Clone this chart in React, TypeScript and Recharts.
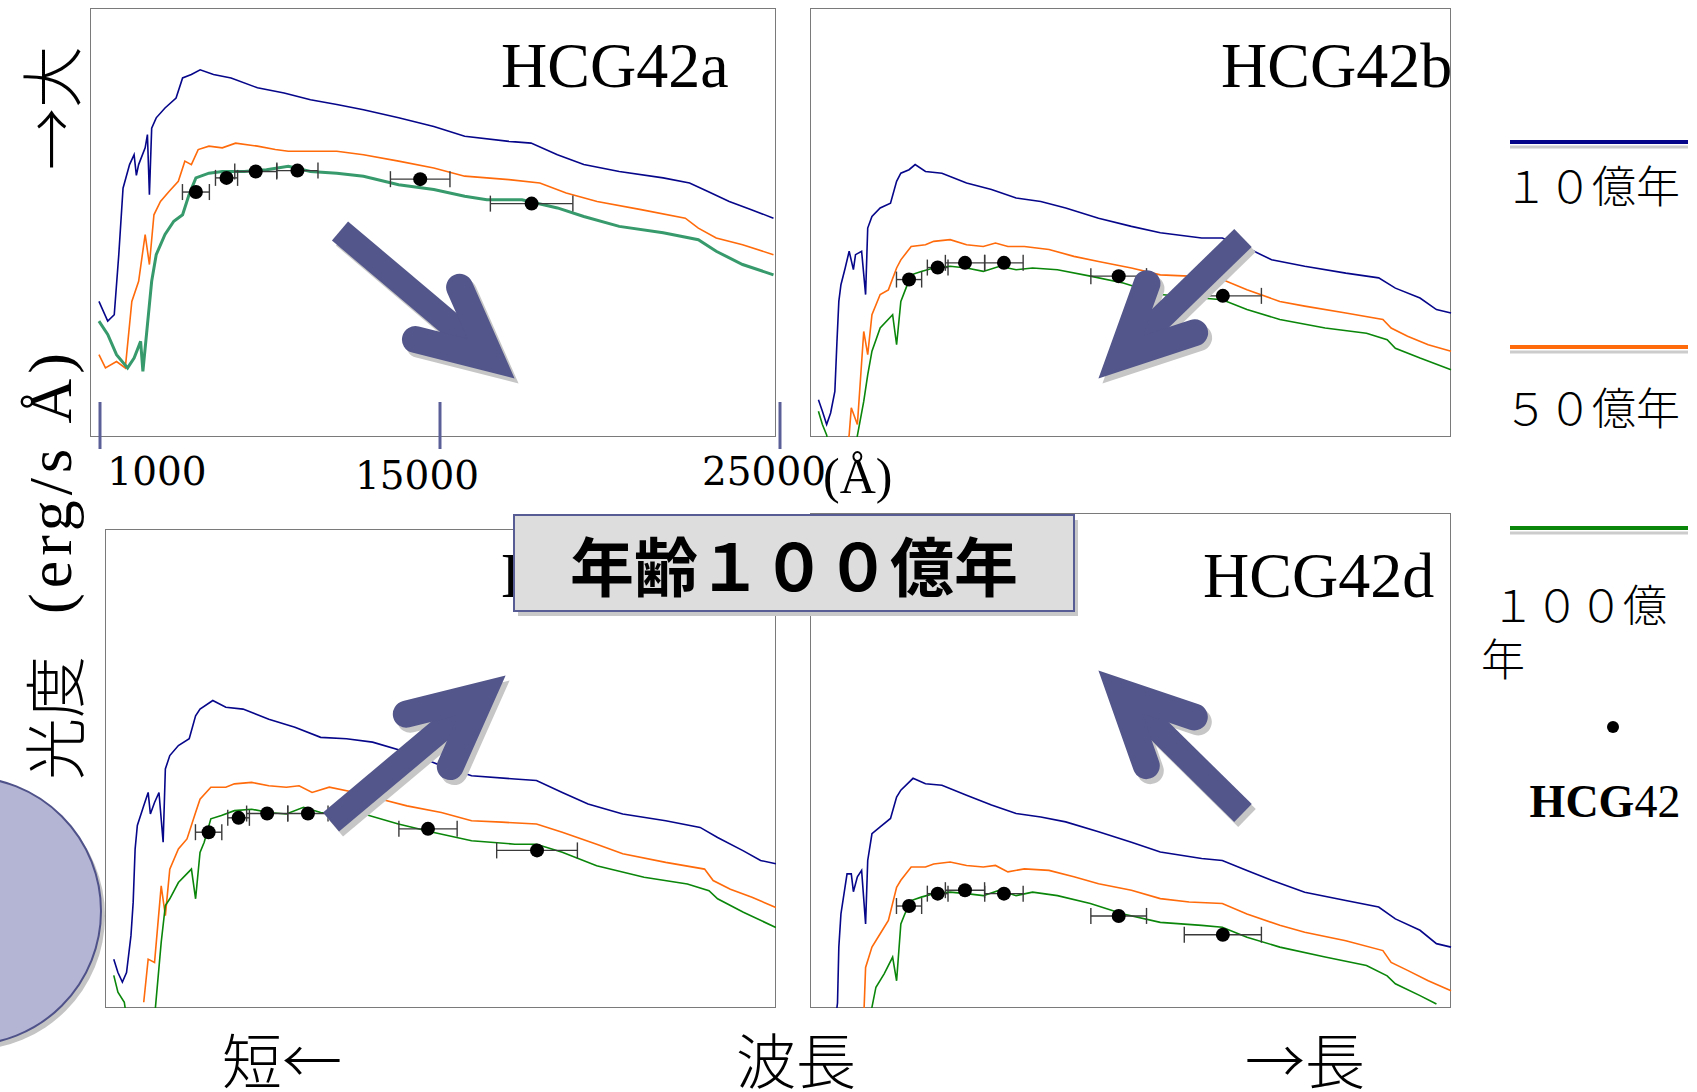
import React from 'react';
import { ComposedChart, Line, Scatter, XAxis, YAxis, ErrorBar } from 'recharts';

// spectra: [wavelength (Å), flux in % of the panel height]
const a10 = [[980,31.6],[1290,27.0],[1520,28.5],[1680,42.5],[1830,58.0],[2060,63.5],[2220,65.8],[2300,61.0],[2380,63.5],[2610,67.4],[2690,70.5],[2760,56.5],[2840,72.0],[3000,74.4],[3310,76.7],[3700,79.0],[3930,83.7],[4240,84.5],[4550,85.6],[5020,84.5],[5640,83.7],[6570,81.4],[7510,80.2],[8440,78.6],[9370,77.5],[10310,76.3],[11550,74.4],[12790,72.4],[13880,70.1],[15440,68.9],[16220,68.5],[17150,65.8],[18080,63.5],[19330,61.9],[20880,60.4],[21810,59.2],[22440,57.3],[23210,54.9],[23990,53.0],[24770,51.0]];
const a50 = [[980,19.2],[1210,16.1],[1600,17.6],[1910,16.1],[2140,31.6],[2380,36.3],[2610,47.2],[2760,40.2],[2920,51.8],[3150,54.9],[3460,57.3],[3780,59.6],[4010,64.3],[4240,63.5],[4480,67.0],[4860,67.8],[5330,67.4],[5800,68.5],[6570,67.8],[7200,67.0],[7660,66.6],[8440,66.6],[9370,66.6],[10310,65.8],[11550,64.3],[12790,62.7],[13880,60.8],[15440,60.0],[16530,59.2],[17460,56.9],[18550,54.9],[20100,53.0],[21660,51.0],[22120,48.7],[22750,46.4],[23680,44.8],[24770,42.5]];
const a100 = [[980,27.0],[1290,23.9],[1600,19.2],[1990,16.1],[2220,18.4],[2450,22.3],[2530,15.3],[2840,36.3],[3000,42.5],[3310,47.2],[3620,50.3],[3930,51.8],[4160,56.5],[4400,60.4],[4860,61.5],[5330,61.9],[6110,61.9],[6890,62.3],[7660,63.1],[8440,61.9],[9370,61.5],[10310,60.8],[11550,58.8],[12790,57.7],[13880,56.1],[14660,55.3],[15900,55.3],[17150,53.4],[18080,51.4],[19330,49.1],[20880,47.6],[22120,46.0],[22750,43.3],[23680,40.2],[24770,37.8]];

const b10 = [[980,8.7],[1130,6.0],[1290,2.9],[1440,5.6],[1600,10.6],[1680,22.3],[1750,31.6],[1830,35.5],[1990,39.4],[2140,43.3],[2300,39.0],[2380,42.5],[2610,43.3],[2760,33.2],[2840,48.7],[3000,51.4],[3310,53.4],[3700,54.5],[3930,59.6],[4090,61.5],[4400,62.3],[4630,63.5],[5020,61.9],[5640,61.5],[6570,59.2],[7510,57.7],[8440,55.7],[9370,54.9],[10310,53.4],[11550,51.0],[12790,49.1],[13880,47.6],[15440,46.4],[16220,46.4],[17150,44.1],[18080,41.3],[19330,39.8],[20880,38.2],[22120,37.1],[22750,34.7],[23680,32.4],[24300,29.7],[24850,28.9]];
const b50 = [[2060,-2],[2140,0.5],[2220,6.8],[2450,2.9],[2690,24.6],[2840,19.2],[3000,28.5],[3310,33.2],[3620,34.3],[3930,39.4],[4090,41.3],[4480,44.4],[5020,44.8],[5330,45.6],[5950,46.0],[6570,44.8],[7200,44.4],[7660,45.2],[8130,44.4],[8750,44.4],[9680,43.7],[10620,42.1],[11550,40.9],[12790,39.4],[13880,37.8],[14970,37.5],[16220,36.7],[17150,34.3],[18390,31.6],[19330,30.5],[20880,28.9],[22280,27.4],[22590,25.4],[23210,23.5],[23990,21.5],[24850,20.0]];
const b100 = [[980,6.0],[1130,2.9],[1290,0.5],[1360,-2],[2380,-2],[2690,8.3],[2840,14.5],[3000,20.0],[3310,25.4],[3780,28.5],[3930,21.5],[4090,31.6],[4240,34.0],[4480,37.8],[4860,38.6],[5330,39.4],[5950,39.8],[6570,39.4],[7200,38.6],[7820,39.8],[8440,39.0],[9060,39.4],[10000,39.0],[11240,37.5],[12480,35.9],[13880,33.2],[15440,32.4],[16220,32.0],[17150,29.7],[18390,27.4],[20100,25.4],[21660,24.2],[22440,22.7],[22750,20.7],[23680,18.4],[24850,15.7]];

const c10 = [[980,10.2],[1130,7.4],[1290,5.4],[1440,7.4],[1600,15.1],[1680,22.1],[1750,33.2],[1830,38.1],[2060,42.2],[2220,45.0],[2300,40.5],[2450,42.9],[2610,45.0],[2760,34.6],[2840,49.9],[3000,52.7],[3310,54.8],[3700,56.2],[3930,61.0],[4090,62.4],[4550,64.2],[5020,62.8],[5640,62.4],[6570,60.3],[7510,58.6],[8440,56.5],[9370,56.2],[10310,55.5],[11550,53.4],[12790,50.6],[13880,48.5],[15440,47.8],[16220,47.5],[17150,45.0],[18080,42.6],[19330,40.5],[20880,39.1],[22120,37.7],[22750,35.6],[23680,32.8],[24300,30.8],[24850,30.1]];
const c50 = [[2060,1.2],[2220,10.2],[2450,9.5],[2690,25.5],[2840,19.3],[3000,29.0],[3310,33.2],[3620,35.3],[3930,40.8],[4090,43.6],[4480,46.1],[5020,46.1],[5330,46.8],[5950,47.1],[6570,46.4],[7200,46.1],[7660,46.4],[8130,45.0],[8750,46.1],[9680,45.0],[10620,43.6],[11550,42.2],[12790,40.8],[13880,39.1],[14970,38.8],[16220,38.4],[17150,36.7],[18390,34.2],[19330,32.2],[20880,30.4],[22280,29.0],[22590,26.6],[23210,24.8],[23990,23.1],[24850,21.0]];
const c100 = [[980,6.8],[1130,3.3],[1360,1.2],[1440,-2],[2450,-2],[2690,13.7],[2840,21.4],[3000,22.8],[3310,26.2],[3780,29.0],[3930,22.8],[4090,32.5],[4240,34.6],[4480,39.5],[4860,40.2],[5330,41.2],[5950,41.5],[6570,40.8],[7200,40.5],[7820,41.9],[8440,40.8],[9060,40.5],[10000,40.5],[11240,38.4],[12480,36.7],[13880,34.9],[15440,34.2],[16220,34.2],[17150,32.5],[18390,29.7],[20100,27.3],[21660,25.9],[22440,24.5],[22750,22.8],[23680,20.0],[24850,16.8]];

const d10 = [[1630,-2],[1700,1.0],[1750,12.3],[1830,19.0],[2060,27.1],[2220,27.1],[2300,23.5],[2450,26.5],[2610,27.8],[2760,17.0],[2840,29.8],[3000,35.2],[3310,36.6],[3700,38.3],[3930,42.6],[4090,44.0],[4550,46.4],[5020,45.3],[5640,45.0],[6570,43.0],[7510,41.0],[8440,39.3],[9370,38.6],[10310,37.6],[11550,35.6],[12790,33.5],[13880,31.5],[15440,30.2],[16220,29.8],[17150,27.8],[18080,25.8],[19330,23.4],[20880,21.7],[22120,20.4],[22750,18.0],[23680,15.7],[24300,13.0],[24850,12.3]];
const d50 = [[2690,-2],[2760,8.2],[3000,12.3],[3310,15.0],[3620,17.7],[3930,24.4],[4090,25.8],[4480,28.5],[5020,28.5],[5330,29.1],[5950,29.5],[6570,28.8],[7200,28.5],[7660,28.8],[8130,27.5],[8750,28.1],[9680,27.8],[10620,26.5],[11550,25.1],[12790,23.8],[13880,22.1],[14970,21.4],[16220,21.1],[17150,19.0],[18390,16.7],[19330,15.3],[20880,13.6],[22280,11.6],[22590,9.2],[23210,7.6],[23990,5.5],[24850,3.5]];
const d100 = [[2920,-2],[3150,4.2],[3460,6.9],[3780,10.3],[3930,5.5],[4090,17.0],[4240,19.0],[4480,21.7],[4860,22.4],[5330,23.1],[5950,23.4],[6570,23.1],[7200,22.7],[7820,23.8],[8440,22.7],[9060,23.4],[10000,22.7],[11240,21.1],[12480,19.0],[13880,17.3],[15440,16.7],[16220,16.3],[17150,14.3],[18390,12.3],[20100,10.3],[21660,8.6],[22440,6.5],[22750,4.9],[23680,2.5],[24300,0.8]];

// HCG42 photometry: band centre, half width, flux per galaxy
const bandWave = [4400, 5480, 6510, 7980, 12310, 16240];
const bandErr = [475, 390, 740, 725, 1050, 1455];
const dotsA = [57.1, 60.4, 61.9, 62.1, 60.1, 54.4];
const dotsB = [36.7, 39.5, 40.6, 40.6, 37.5, 32.9];
const dotsC = [36.7, 39.7, 40.6, 40.6, 37.4, 32.9];
const dotsD = [20.6, 23.1, 23.8, 23.1, 18.6, 14.8];

const annTicks = ['1000', '15000', '25000'];

const BLUE = '#06068a';
const ORANGE = '#ff6a0a';
const GREEN = '#0a860a';
const TEAL = '#379a6c';
const ARROW = '#53568a';
const JP = '"Noto Sans CJK JP", sans-serif';
const SERIF = '"Liberation Serif", serif';

const toPts = (arr: number[][]) => arr.map(([x, v]) => ({ x, v }));

const annDx = [57, -23, -16];
const annDy = [16, 20, 16];

function AnnTick(props: any) {
  const { x, y, payload, index } = props;
  return (
    <g>
      <line x1={x} x2={x} y1={y - 67} y2={y - 20} stroke="#5b5f98" strokeWidth={3} />
      <text x={x + annDx[index]} y={y + annDy[index]} textAnchor="middle" fontFamily='"DejaVu Serif", serif' fontSize={39} fill="#000">
        {payload.value}
      </text>
    </g>
  );
}

const DotShape = (p: any) => <circle cx={p.cx} cy={p.cy} r={7} fill="#000" />;

interface Box { x: number; y: number; w: number; h: number }
interface Series { pts: number[][]; color: string; width: number }

function Panel({ box, series, dots, ann }: { box: Box; series: Series[]; dots: number[]; ann?: boolean }) {
  const mL = 10, mR = 70, mT = 10, mB = 10;
  const plotW = Math.round(box.w * 1.005);
  const axisH = ann ? 90 : 0;
  const scat = bandWave.map((x, i) => ({ x, v: dots[i], err: bandErr[i] }));
  const annData = annTicks.map((label) => ({ label }));
  return (
    <>
      <div style={{ position: 'absolute', left: box.x, top: box.y, width: box.w, height: box.h, border: '1.5px solid #7a7a7a', boxSizing: 'border-box', background: '#fff' }} />
      <div style={{ position: 'absolute', left: box.x + 1 - mL, top: box.y - mT }}>
        <ComposedChart
          width={plotW + mL + mR}
          height={box.h + mT + mB + axisH}
          margin={{ top: mT, right: mR, bottom: mB, left: mL }}
          data={ann ? annData : undefined}
        >
          <XAxis xAxisId={0} type="number" dataKey="x" domain={[700, 25000]} allowDataOverflow hide />
          {ann && (
            <XAxis
              xAxisId="ann"
              type="category"
              dataKey="label"
              scale="point"
              padding={{ left: 9, right: 0 }}
              axisLine={false}
              tickLine={false}
              tickSize={0}
              height={axisH}
              interval={0}
              tick={<AnnTick />}
            />
          )}
          <YAxis type="number" dataKey="v" domain={[0, 100]} allowDataOverflow hide />
          {series.map((s, i) => (
            <Line
              key={i}
              data={toPts(s.pts)}
              dataKey="v"
              type="linear"
              stroke={s.color}
              strokeWidth={s.width}
              dot={false}
              isAnimationActive={false}
            />
          ))}
          <Scatter data={scat} dataKey="v" shape={DotShape} isAnimationActive={false}>
            <ErrorBar dataKey="err" direction="x" width={8} stroke="#3a3a3a" strokeWidth={1.4} />
          </Scatter>
        </ComposedChart>
      </div>
    </>
  );
}

function Arrow({ tail, tip }: { tail: number[]; tip: number[] }) {
  const dx = tip[0] - tail[0], dy = tip[1] - tail[1];
  const len = Math.hypot(dx, dy);
  const ux = dx / len, uy = dy / len;
  const vx = tip[0] - 30 * ux, vy = tip[1] - 30 * uy;
  const arm = 78;
  const side = (deg: number) => {
    const a = (deg * Math.PI) / 180;
    return [vx - (ux * Math.cos(a) - uy * Math.sin(a)) * arm, vy - (ux * Math.sin(a) + uy * Math.cos(a)) * arm];
  };
  const p1 = side(26), p2 = side(-26);
  const shaft = `M${tail[0]},${tail[1]} L${vx},${vy}`;
  const head = `M${p1[0]},${p1[1]} L${vx},${vy} L${p2[0]},${p2[1]}`;
  const draw = (color: string, ox: number, oy: number) => (
    <g transform={`translate(${ox},${oy})`}>
      <path d={shaft} stroke={color} strokeWidth={25} fill="none" strokeLinecap="butt" />
      <path d={head} stroke={color} strokeWidth={27} fill="none" strokeLinecap="round" strokeLinejoin="miter" strokeMiterlimit={10} />
    </g>
  );
  return (
    <g>
      {draw('#c6c6c6', 4, 5)}
      {draw(ARROW, 0, 0)}
    </g>
  );
}

const boxA: Box = { x: 90, y: 8, w: 686, h: 429 };
const boxB: Box = { x: 810, y: 8, w: 641, h: 429 };
const boxC: Box = { x: 105, y: 529, w: 671, h: 479 };
const boxD: Box = { x: 810, y: 513, w: 641, h: 495 };

export default function App() {
  return (
    <div style={{ position: 'absolute', left: 0, top: 0, width: 1697, height: 1092, background: '#fff', overflow: 'hidden' }}>
      <svg width={1697} height={1092} style={{ position: 'absolute', left: 0, top: 0 }}>
        <circle cx={-29} cy={916} r={134} fill="#c4c4c4" />
        <circle cx={-33} cy={911} r={134} fill="#b4b5d5" stroke="#4f5289" strokeWidth={2} />
      </svg>

      <Panel box={boxC} series={[{ pts: c10, color: BLUE, width: 1.6 }, { pts: c50, color: ORANGE, width: 1.6 }, { pts: c100, color: GREEN, width: 1.6 }]} dots={dotsC} />
      <Panel box={boxD} series={[{ pts: d10, color: BLUE, width: 1.6 }, { pts: d50, color: ORANGE, width: 1.6 }, { pts: d100, color: GREEN, width: 1.6 }]} dots={dotsD} />
      <Panel box={boxB} series={[{ pts: b10, color: BLUE, width: 1.6 }, { pts: b50, color: ORANGE, width: 1.6 }, { pts: b100, color: GREEN, width: 1.6 }]} dots={dotsB} />
      <Panel box={boxA} ann series={[{ pts: a10, color: BLUE, width: 1.6 }, { pts: a50, color: ORANGE, width: 1.6 }, { pts: a100, color: TEAL, width: 3 }]} dots={dotsA} />

      <svg width={1697} height={1092} style={{ position: 'absolute', left: 0, top: 0, pointerEvents: 'none' }}>
        {/* panel titles */}
        <text x={501} y={87} fontFamily={SERIF} fontSize={64} fill="#000">HCG42a</text>
        <text x={1221} y={87} fontFamily={SERIF} fontSize={64} fill="#000">HCG42b</text>
        <text x={501} y={597} fontFamily={SERIF} fontSize={64} fill="#000">HCG42c</text>
        <text x={1203} y={597} fontFamily={SERIF} fontSize={64} fill="#000">HCG42d</text>

        <text x={823} y={476} dominantBaseline="central" fontFamily={SERIF} fontSize={50} fill="#000">(Å)</text>

        <Arrow tail={[340, 231]} tip={[514, 378]} />
        <Arrow tail={[1243, 238]} tip={[1099, 378]} />
        <Arrow tail={[331, 822]} tip={[505, 676]} />
        <Arrow tail={[1243, 813]} tip={[1099, 671]} />

        {/* age box */}
        <rect x={518} y={520} width={560} height={96} fill="#c8c8c8" />
        <rect x={514} y={515} width={560} height={96} fill="#dddddd" stroke="#575c95" strokeWidth={2} />
        <text x={794} y={563} textAnchor="middle" dominantBaseline="central" fontFamily={JP} fontWeight={700} fontSize={64} fill="#000">年齢１００億年</text>

        {/* legend */}
        <line x1={1510} x2={1688} y1={147} y2={147} stroke="#cccccc" strokeWidth={3} />
        <line x1={1510} x2={1688} y1={142} y2={142} stroke={BLUE} strokeWidth={4} />
        <text x={1504} y={184} dominantBaseline="central" fontFamily={JP} fontWeight={300} fontSize={44} fill="#000">１０億年</text>
        <line x1={1510} x2={1688} y1={352} y2={352} stroke="#cccccc" strokeWidth={3} />
        <line x1={1510} x2={1688} y1={347} y2={347} stroke={ORANGE} strokeWidth={4} />
        <text x={1504} y={406} dominantBaseline="central" fontFamily={JP} fontWeight={300} fontSize={44} fill="#000">５０億年</text>
        <line x1={1510} x2={1688} y1={533} y2={533} stroke="#cccccc" strokeWidth={3} />
        <line x1={1510} x2={1688} y1={528} y2={528} stroke={GREEN} strokeWidth={4} />
        <text x={1491} y={603} dominantBaseline="central" fontFamily={JP} fontWeight={300} fontSize={44} fill="#000">１００億</text>
        <text x={1481} y={657} dominantBaseline="central" fontFamily={JP} fontWeight={300} fontSize={44} fill="#000">年</text>
        <circle cx={1613} cy={727} r={6} fill="#000" />
        <text x={1605} y={801} textAnchor="middle" dominantBaseline="central" fontFamily={SERIF} fontSize={46} fill="#000">
          <tspan fontWeight={700}>HCG</tspan>
          <tspan>42</tspan>
        </text>

        {/* y label */}
        <text x={0} y={0} transform="translate(49,108) rotate(-90)" textAnchor="middle" dominantBaseline="central" fontFamily={JP} fontWeight={300} fontSize={62} fill="#000">→大</text>
        <text x={0} y={0} transform="translate(50,481) rotate(-90)" textAnchor="middle" dominantBaseline="central" fontFamily={SERIF} fontSize={62} letterSpacing={5} fill="#000">(erg/s Å)</text>
        <text x={0} y={0} transform="translate(52,718) rotate(-90)" textAnchor="middle" dominantBaseline="central" fontFamily={JP} fontWeight={300} fontSize={62} fill="#000">光度</text>

        {/* x label */}
        <text x={222} y={1057} dominantBaseline="central" fontFamily={JP} fontWeight={300} fontSize={60} fill="#000">短←</text>
        <text x={736} y={1057} dominantBaseline="central" fontFamily={JP} fontWeight={300} fontSize={60} fill="#000">波長</text>
        <text x={1245} y={1057} dominantBaseline="central" fontFamily={JP} fontWeight={300} fontSize={60} fill="#000">→長</text>
      </svg>
    </div>
  );
}
